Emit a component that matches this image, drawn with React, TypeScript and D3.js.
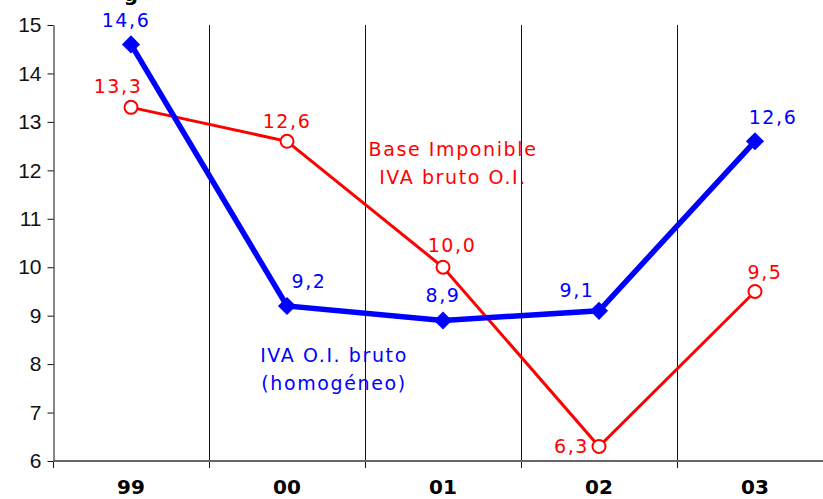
import { useRef, useEffect } from "react";
import * as d3 from "d3";

const years = ["99", "00", "01", "02", "03"];
const ivaBruto = [14.6, 9.2, 8.9, 9.1, 12.6]; // IVA O.I. bruto (homogéneo)
const baseImponible = [13.3, 12.6, 10.0, 6.3, 9.5]; // Base Imponible IVA bruto O.I.
const yTicks = [6, 7, 8, 9, 10, 11, 12, 13, 14, 15];

const fmt = (v: number) => v.toFixed(1).replace(".", ",");

export default function App() {
  const svgRef = useRef<SVGSVGElement>(null);

  useEffect(() => {
    const svg = svgRef.current;
    if (!svg) return;

    const width = 823;
    const height = 499;
    const margin = { top: 25, left: 53, bottom: 38 };
    const innerH = height - margin.top - margin.bottom;

    const x = d3.scaleBand<string>().domain(years).range([margin.left, margin.left + 5 * 156]);
    const cx = (i: number) => (x(years[i]) as number) + x.bandwidth() / 2;
    const y = d3.scaleLinear().domain([6, 15]).range([margin.top + innerH, margin.top]);

    const sel = d3.select(svg);
    sel.selectAll("*").remove();
    sel.attr("width", width).attr("height", height);

    const font = "'DejaVu Sans', Verdana, sans-serif";

    // cut-off title
    sel.append("text")
      .attr("x", 131)
      .attr("y", 1)
      .attr("text-anchor", "middle")
      .attr("font-family", font)
      .attr("font-weight", "bold")
      .attr("font-size", 20)
      .attr("fill", "#000")
      .text("g");

    // vertical category separators
    sel.append("g")
      .selectAll("line")
      .data(years.slice(1))
      .join("line")
      .attr("x1", (d) => Math.round(x(d) as number) + 0.5)
      .attr("x2", (d) => Math.round(x(d) as number) + 0.5)
      .attr("y1", y(15))
      .attr("y2", y(6) + 7)
      .attr("stroke", "#111")
      .attr("stroke-width", 1);

    // y axis
    const ya = sel.append("g")
      .attr("transform", `translate(${margin.left + 0.5},0)`)
      .call(d3.axisLeft(y).tickValues(yTicks).tickSize(6).tickSizeOuter(0).tickFormat((d) => `${d}`));
    ya.select(".domain").attr("stroke", "#111");
    ya.selectAll("line").attr("stroke", "#111");
    ya.selectAll("text")
      .attr("fill", "#111")
      .attr("font-size", "21px")
      .attr("font-family", "'Liberation Sans', Arial, sans-serif")
      .attr("x", -12);
    sel.append("line")
      .attr("x1", margin.left + 0.5).attr("x2", margin.left + 0.5)
      .attr("y1", y(6)).attr("y2", y(6) + 7)
      .attr("stroke", "#111");

    // x axis line
    sel.append("line")
      .attr("x1", margin.left)
      .attr("x2", width)
      .attr("y1", y(6))
      .attr("y2", y(6))
      .attr("stroke", "#666")
      .attr("stroke-width", 2);

    // x labels
    sel.append("g")
      .selectAll("text")
      .data(years)
      .join("text")
      .attr("x", (_, i) => cx(i))
      .attr("y", 494)
      .attr("text-anchor", "middle")
      .attr("font-family", font)
      .attr("font-weight", "bold")
      .attr("font-size", 20)
      .attr("fill", "#000")
      .text((d) => d);

    const line = d3.line<number>().x((_, i) => cx(i)).y((d) => y(d));

    // red series
    sel.append("path")
      .datum(baseImponible)
      .attr("fill", "none")
      .attr("stroke", "#ff0000")
      .attr("stroke-width", 3)
      .attr("d", line);
    sel.append("g")
      .selectAll("circle")
      .data(baseImponible)
      .join("circle")
      .attr("cx", (_, i) => cx(i))
      .attr("cy", (d) => y(d))
      .attr("r", 6.5)
      .attr("fill", "#fff")
      .attr("stroke", "#ff0000")
      .attr("stroke-width", 2);

    // blue series
    sel.append("path")
      .datum(ivaBruto)
      .attr("fill", "none")
      .attr("stroke", "#0000ff")
      .attr("stroke-width", 5.5)
      .attr("d", line);
    sel.append("g")
      .selectAll("path")
      .data(ivaBruto)
      .join("path")
      .attr("transform", (d, i) => `translate(${cx(i)},${y(d)})`)
      .attr("d", d3.symbol(d3.symbolDiamond2, 210)())
      .attr("fill", "#0000ff");

    // value labels
    const redOff: [number, number, string][] = [
      [-13, -14, "middle"], [0, -13, "middle"], [9, -15, "middle"], [-10, 7, "end"], [10, -12, "middle"],
    ];
    const blueOff: [number, number, string][] = [
      [-5, -17, "middle"], [22, -18, "middle"], [0, -19, "middle"], [-22, -14, "middle"], [18, -17, "middle"],
    ];
    const labelStyle = (s: d3.Selection<any, any, any, any>) =>
      s.attr("font-family", font).attr("font-size", 19).attr("letter-spacing", 1.6);

    sel.append("g")
      .selectAll("text")
      .data(baseImponible)
      .join("text")
      .attr("x", (_, i) => cx(i) + redOff[i][0])
      .attr("y", (d, i) => y(d) + redOff[i][1])
      .attr("text-anchor", (_, i) => redOff[i][2])
      .call(labelStyle)
      .attr("fill", "#ff0000")
      .text((d) => fmt(d));
    sel.append("g")
      .selectAll("text")
      .data(ivaBruto)
      .join("text")
      .attr("x", (_, i) => cx(i) + blueOff[i][0])
      .attr("y", (d, i) => y(d) + blueOff[i][1])
      .attr("text-anchor", (_, i) => blueOff[i][2])
      .call(labelStyle)
      .attr("fill", "#0000ff")
      .text((d) => fmt(d));

    // series annotations
    const note = (lines: string[], px: number, py: number, color: string) => {
      sel.append("g")
        .selectAll("text")
        .data(lines)
        .join("text")
        .attr("x", px)
        .attr("y", (_, i) => py + i * 28)
        .attr("text-anchor", "middle")
        .call(labelStyle)
        .attr("fill", color)
        .text((d) => d);
    };
    note(["Base Imponible", "IVA bruto O.I."], 453, 156, "#ff0000");
    note(["IVA O.I. bruto", "(homogéneo)"], 334, 362, "#0000ff");
  }, []);

  return <svg ref={svgRef} style={{ position: "absolute", left: 0, top: 0, background: "#fff" }} />;
}
